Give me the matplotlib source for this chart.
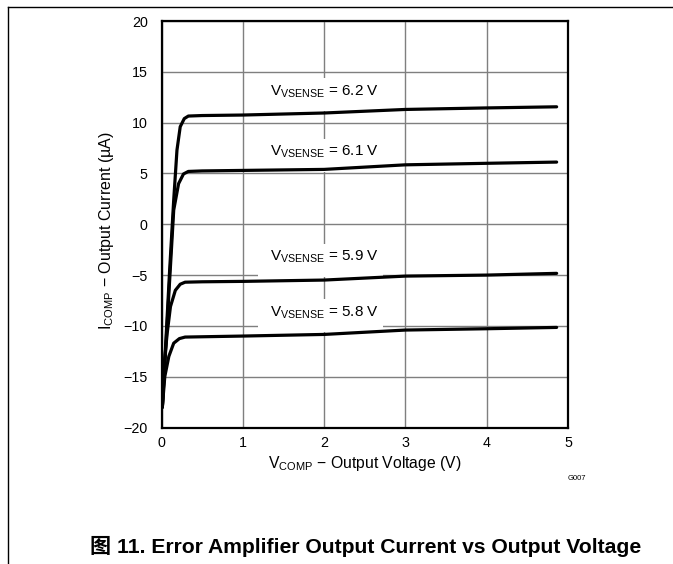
import matplotlib
matplotlib.use("Agg")
import matplotlib.pyplot as plt
from matplotlib.lines import Line2D
from matplotlib.patches import Rectangle

plt.rcParams['font.family'] = ['Liberation Sans', 'Noto Sans CJK SC', 'DejaVu Sans']
plt.rcParams['mathtext.fontset'] = 'custom'
plt.rcParams['mathtext.rm'] = 'Liberation Sans'

# ---- data ----
x_62 = [0.01, 0.05, 0.10, 0.15, 0.19, 0.23, 0.28, 0.33, 0.5, 1.0, 2.0, 3.0, 4.0, 4.86]
y_62 = [-18.0, -12.0, -4.5, 2.4, 7.3, 9.6, 10.4, 10.65, 10.7, 10.75, 10.95, 11.3, 11.45, 11.56]

x_61 = [0.01, 0.05, 0.10, 0.15, 0.21, 0.27, 0.33, 0.5, 1.0, 2.0, 3.0, 4.0, 4.86]
y_61 = [-18.0, -12.5, -5.5, 1.4, 4.0, 4.95, 5.2, 5.25, 5.3, 5.4, 5.85, 6.0, 6.12]

x_59 = [0.01, 0.03, 0.07, 0.11, 0.17, 0.23, 0.29, 0.5, 1.0, 2.0, 3.0, 4.0, 4.86]
y_59 = [-18.0, -14.0, -10.7, -8.1, -6.5, -5.9, -5.7, -5.66, -5.62, -5.49, -5.1, -5.0, -4.83]

x_58 = [0.01, 0.04, 0.09, 0.15, 0.22, 0.29, 0.5, 1.0, 2.0, 3.0, 4.0, 4.86]
y_58 = [-18.0, -15.0, -13.0, -11.7, -11.25, -11.1, -11.07, -11.0, -10.84, -10.41, -10.28, -10.15]

series = [(x_62, y_62), (x_61, y_61), (x_59, y_59), (x_58, y_58)]
label_texts = [r'V$_{\mathregular{VSENSE}}$ = 6.2 V', r'V$_{\mathregular{VSENSE}}$ = 6.1 V',
               r'V$_{\mathregular{VSENSE}}$ = 5.9 V', r'V$_{\mathregular{VSENSE}}$ = 5.8 V']
label_y = [13.1, 7.1, -3.2, -8.65]

x_ticks = [0, 1, 2, 3, 4, 5]
y_ticks = [-20, -15, -10, -5, 0, 5, 10, 15, 20]

# ---- figure ----
fig = plt.figure(figsize=(6.73, 5.64), dpi=100)
ax = fig.add_axes([0.240, 0.242, 0.604, 0.7207])
ax.set_xlim(0, 5)
ax.set_ylim(-20, 20)
ax.set_xticks(x_ticks)
ax.set_yticks(y_ticks)
ax.grid(True, color='#7f7f7f', linewidth=1.0, zorder=0)
ax.set_axisbelow(True)
ax.tick_params(length=0, labelsize=10.3)
ax.tick_params(axis='y', pad=10)
ax.tick_params(axis='x', pad=6)
for s in ax.spines.values():
    s.set_linewidth(1.6)
    s.set_zorder(5)

for (xs, ys) in series:
    ax.plot(xs, ys, color='black', linewidth=2.3, solid_capstyle='round', zorder=4)

for t, yv in zip(label_texts, label_y):
    ax.add_patch(Rectangle((1.19, yv - 1.97), 1.54, 3.25, facecolor='white',
                           edgecolor='none', zorder=2))
    ax.text(2.01, yv, t, ha='center', va='center', fontsize=11, zorder=3)

ax.set_xlabel(r'V$_{\mathregular{COMP}}$ − Output Voltage (V)', fontsize=11.3, labelpad=3)
ax.set_ylabel(r'I$_{\mathregular{COMP}}$ − Output Current (µA)', fontsize=11.5, labelpad=4)
ax.yaxis.set_label_coords(-0.113, 0.485)

fig.text(576.7 / 673, 1 - 478 / 564, 'G007', fontsize=5.5, ha='center', va='center')
fig.text(366 / 673, 1 - 546.7 / 564, '图 11. Error Amplifier Output Current vs Output Voltage',
         fontsize=15.2, fontweight='bold', ha='center', va='center')

# frame lines
fig.add_artist(Line2D([8 / 673, 8 / 673], [0, 1 - 7 / 564], color='black', linewidth=1.0,
                      transform=fig.transFigure))
fig.add_artist(Line2D([8 / 673, 1], [1 - 7 / 564, 1 - 7 / 564], color='black', linewidth=1.0,
                      transform=fig.transFigure))

fig.savefig('out.png', dpi=100)
